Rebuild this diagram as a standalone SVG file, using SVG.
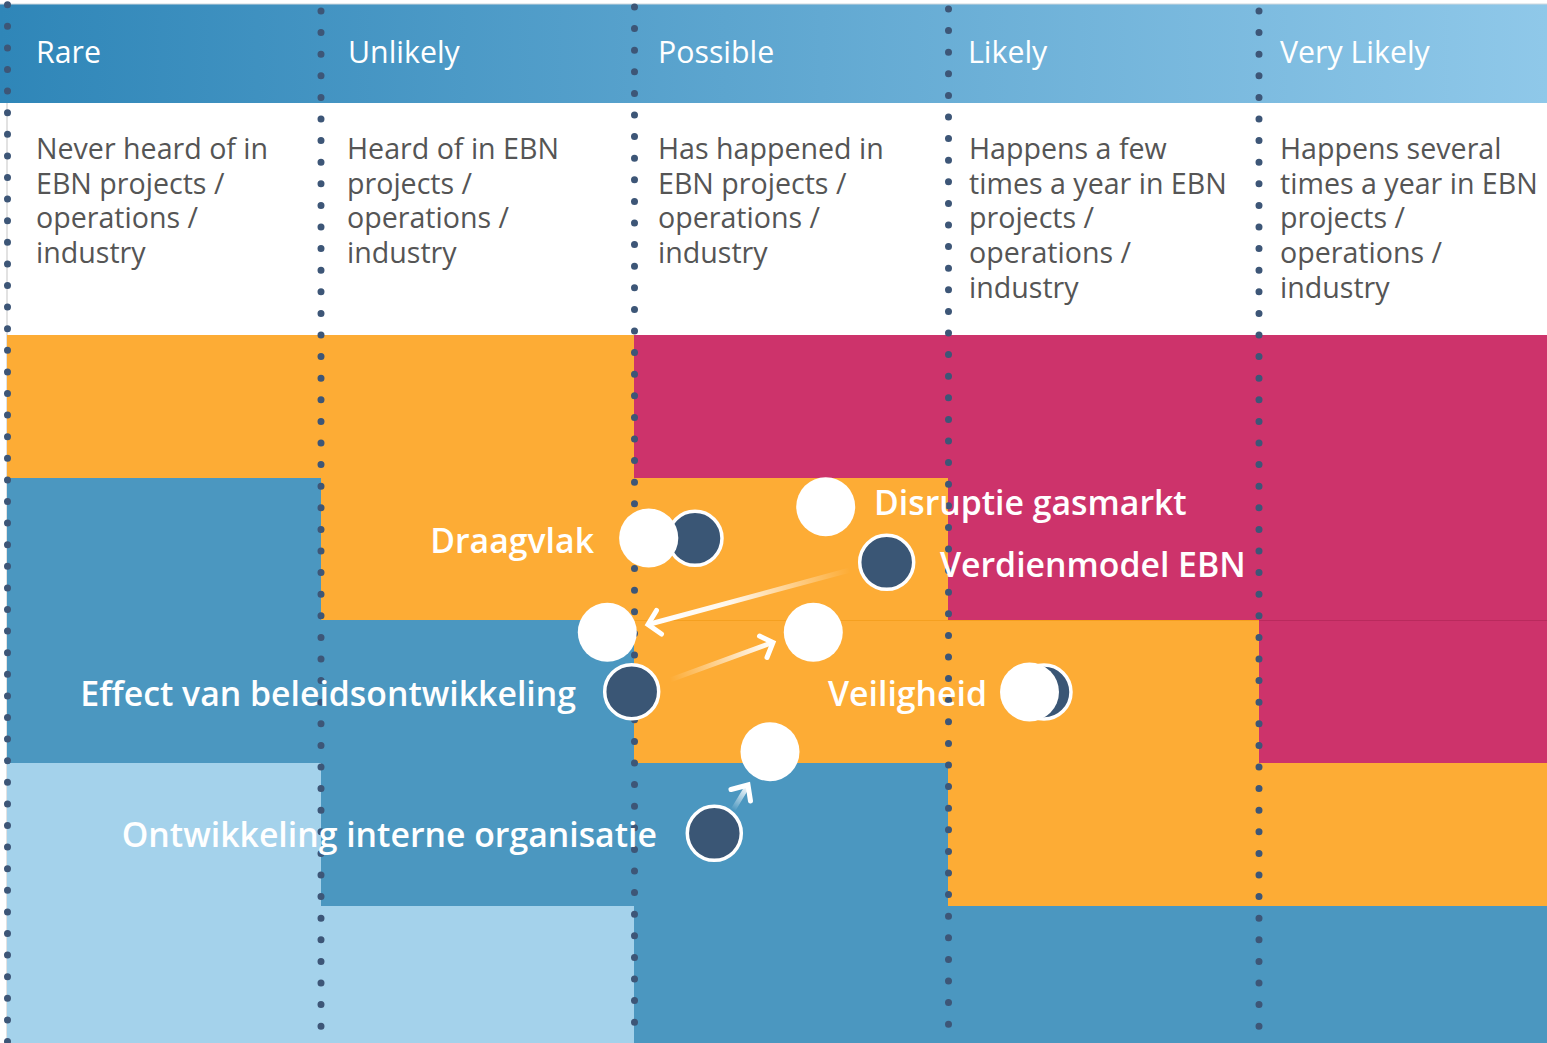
<svg xmlns="http://www.w3.org/2000/svg" width="1547" height="1043" viewBox="0 0 1547 1043">
<style>
.hd{font-family:"Open Sans","Liberation Sans",sans-serif;font-size:30.3px;fill:#fff}
.ds{font-family:"Open Sans","Liberation Sans",sans-serif;font-size:28.6px;fill:#555}
.lb{font-family:"Open Sans","Liberation Sans",sans-serif;font-size:33.8px;font-weight:600;fill:#fff}
.dot{stroke:#3d5677;stroke-width:7;stroke-linecap:round;stroke-dasharray:0 21.6;fill:none}
.o{fill:#fdac35}.r{fill:#cd336b}.b{fill:#4b97c0}.lbl{fill:#a4d2eb}
.w{fill:#fff}
.n{fill:#3a5675;stroke:#fff;stroke-width:3.5}
.arr{stroke-width:5;stroke-linecap:round;fill:none}
</style>
<defs>
<linearGradient id="hg" x1="0" y1="0" x2="1" y2="0">
<stop offset="0" stop-color="#2f86b8"/>
<stop offset="1" stop-color="#8fc8e9"/>
</linearGradient>
<linearGradient id="a1" gradientUnits="userSpaceOnUse" x1="850" y1="570" x2="650" y2="624">
<stop offset="0" stop-color="#fff" stop-opacity="0"/>
<stop offset="0.6" stop-color="#fff" stop-opacity="0.9"/>
<stop offset="1" stop-color="#fff"/>
</linearGradient>
<linearGradient id="a2" gradientUnits="userSpaceOnUse" x1="670" y1="680" x2="772" y2="643">
<stop offset="0" stop-color="#fff" stop-opacity="0"/>
<stop offset="1" stop-color="#fff"/>
</linearGradient>
<linearGradient id="a3" gradientUnits="userSpaceOnUse" x1="733" y1="810" x2="748" y2="786">
<stop offset="0" stop-color="#fff" stop-opacity="0"/>
<stop offset="1" stop-color="#fff"/>
</linearGradient>
</defs>
<rect width="1547" height="1043" fill="#fff"/>
<g id="header">
<rect x="0" y="4" width="1547" height="99" fill="url(#hg)"/>
<line x1="0" y1="4" x2="1547" y2="4" stroke="#cfd8de" stroke-width="1"/>
<text class="hd" x="36" y="63">Rare</text>
<text class="hd" x="348" y="63">Unlikely</text>
<text class="hd" x="658" y="63">Possible</text>
<text class="hd" x="968" y="63">Likely</text>
<text class="hd" x="1280" y="63">Very Likely</text>
</g>
<g id="descriptions">
<line x1="7" y1="103" x2="7" y2="1043" stroke="#d8d8d8" stroke-width="1.5"/>
<text class="ds" x="36" y="159">Never heard of in<tspan x="36" y="194">EBN projects /</tspan><tspan x="36" y="228">operations /</tspan><tspan x="36" y="263">industry</tspan></text>
<text class="ds" x="347" y="159">Heard of in EBN<tspan x="347" y="194">projects /</tspan><tspan x="347" y="228">operations /</tspan><tspan x="347" y="263">industry</tspan></text>
<text class="ds" x="658" y="159">Has happened in<tspan x="658" y="194">EBN projects /</tspan><tspan x="658" y="228">operations /</tspan><tspan x="658" y="263">industry</tspan></text>
<text class="ds" x="969" y="159">Happens a few<tspan x="969" y="194">times a year in EBN</tspan><tspan x="969" y="228">projects /</tspan><tspan x="969" y="263">operations /</tspan><tspan x="969" y="298">industry</tspan></text>
<text class="ds" x="1280" y="159">Happens several<tspan x="1280" y="194">times a year in EBN</tspan><tspan x="1280" y="228">projects /</tspan><tspan x="1280" y="263">operations /</tspan><tspan x="1280" y="298">industry</tspan></text>
</g>
<g id="matrix">
<rect class="o" x="7" y="335" width="627" height="143"/>
<rect class="r" x="634" y="335" width="913" height="143"/>
<rect class="b" x="7" y="478" width="314" height="142"/>
<rect class="o" x="321" y="478" width="627" height="142"/>
<rect class="r" x="948" y="478" width="599" height="142"/>
<rect class="b" x="7" y="620" width="627" height="143"/>
<rect class="o" x="634" y="620" width="625" height="143"/>
<rect class="r" x="1259" y="620" width="288" height="143"/>
<rect class="lbl" x="7" y="763" width="314" height="143"/>
<rect class="b" x="321" y="763" width="627" height="143"/>
<rect class="o" x="948" y="763" width="599" height="143"/>
<rect class="lbl" x="7" y="906" width="627" height="137"/>
<rect class="b" x="634" y="906" width="913" height="137"/>
<line x1="634" y1="620.5" x2="1259" y2="620.5" stroke="#f5a020" stroke-width="1"/>
<line x1="1259" y1="620.5" x2="1547" y2="620.5" stroke="#b92a5d" stroke-width="1"/>
</g>
<g id="gridlines">
<line class="dot" x1="7.5" y1="4.7" x2="7.5" y2="1043"/>
<line class="dot" x1="321" y1="11" x2="321" y2="1043"/>
<line class="dot" x1="634.5" y1="7" x2="634.5" y2="1043"/>
<line class="dot" x1="948.5" y1="9" x2="948.5" y2="1043"/>
<line class="dot" x1="1259" y1="11" x2="1259" y2="1043"/>
</g>
<g id="connectors">
<line class="arr" x1="850" y1="570" x2="650" y2="624" stroke="url(#a1)"/>
<polyline class="arr" points="661.5,634 648,624.5 656.5,610.5" stroke="#fff"/>
<line class="arr" x1="670" y1="680" x2="771" y2="643" stroke="url(#a2)"/>
<polyline class="arr" points="759.5,636 773,642.5 767,657.5" stroke="#fff"/>
<line class="arr" x1="733" y1="810" x2="747" y2="787" stroke="url(#a3)"/>
<polyline class="arr" points="731,789.5 748,785 750.5,801" stroke="#fff"/>
</g>
<g id="node-draagvlak">
<circle class="n" cx="695" cy="538.3" r="27"/>
<circle class="w" cx="648.7" cy="538" r="29.6"/>
<text class="lb" x="594" y="553" text-anchor="end">Draagvlak</text>
</g>
<g id="node-disruptie">
<circle class="w" cx="825.7" cy="506.7" r="29.5"/>
<text class="lb" x="874" y="515">Disruptie gasmarkt</text>
</g>
<g id="node-verdienmodel">
<circle class="n" cx="886.7" cy="562.3" r="27"/>
<text class="lb" x="940" y="577">Verdienmodel EBN</text>
</g>
<g id="node-effect">
<circle class="w" cx="607.3" cy="632.3" r="29.5"/>
<circle class="n" cx="631.7" cy="691.7" r="27"/>
<text class="lb" x="576" y="706" text-anchor="end">Effect van beleidsontwikkeling</text>
</g>
<g id="node-veiligheid-target">
<circle class="w" cx="813.3" cy="632.3" r="29.5"/>
</g>
<g id="node-veiligheid">
<circle class="n" cx="1044" cy="692" r="27"/>
<circle class="w" cx="1029.5" cy="692" r="29.5"/>
<text class="lb" x="987" y="706" text-anchor="end">Veiligheid</text>
</g>
<g id="node-ontwikkeling">
<circle class="w" cx="770" cy="751.7" r="29.5"/>
<circle class="n" cx="714.3" cy="833.3" r="27"/>
<text class="lb" x="657" y="847" text-anchor="end">Ontwikkeling interne organisatie</text>
</g>
</svg>
